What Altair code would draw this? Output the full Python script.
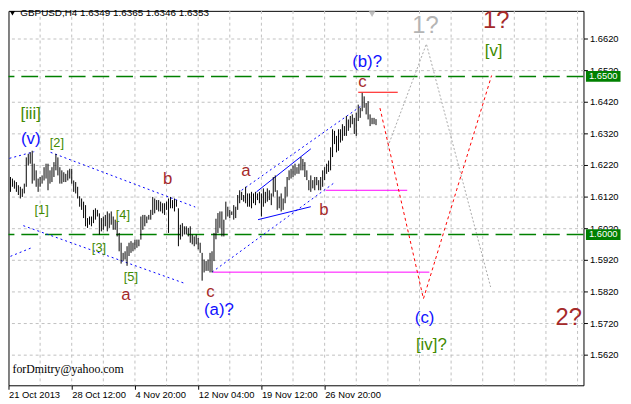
import altair as alt
import pandas as pd

# ---- OHLC bars (H4): highs and lows ----
highs = [1.6182, 1.6177, 1.6171, 1.6166, 1.6156, 1.6151, 1.6145, 1.6161, 1.6244, 1.6255,
         1.6260, 1.6265, 1.6224, 1.6203, 1.6177, 1.6182, 1.6187, 1.6213, 1.6224, 1.6224,
         1.6203, 1.6213, 1.6229, 1.6255, 1.6244, 1.6213, 1.6203, 1.6197, 1.6192, 1.6203,
         1.6208, 1.6208, 1.6171, 1.6166, 1.6151, 1.6121, 1.6114, 1.6104, 1.6093, 1.6052,
         1.6057, 1.6057, 1.6078, 1.6083, 1.6078, 1.6067, 1.6052, 1.6057, 1.6062, 1.6073,
         1.6067, 1.6073, 1.6057, 1.6047, 1.6041, 1.6005, 1.5974, 1.5942, 1.5947, 1.5963,
         1.5974, 1.5979, 1.5974, 1.5984, 1.5984, 1.5984, 1.6057, 1.6062, 1.6062, 1.6057,
         1.6062, 1.6078, 1.6119, 1.6114, 1.6109, 1.6109, 1.6104, 1.6099, 1.6099, 1.6104,
         1.6114, 1.6119, 1.6109, 1.6114, 1.6109, 1.6083, 1.6031, 1.6036, 1.6026, 1.6026,
         1.6021, 1.6026, 1.6000, 1.5994, 1.6000, 1.5989, 1.5974, 1.5942, 1.5921, 1.5916,
         1.5921, 1.5942, 1.5947, 1.6005, 1.6050, 1.6068, 1.6073, 1.6073, 1.6047, 1.6104,
         1.6088, 1.6078, 1.6073, 1.6093, 1.6088, 1.6125, 1.6140, 1.6135, 1.6125, 1.6151,
         1.6130, 1.6130, 1.6135, 1.6130, 1.6135, 1.6130, 1.6135, 1.6130, 1.6146, 1.6135,
         1.6146, 1.6140, 1.6130, 1.6182, 1.6187, 1.6140, 1.6120, 1.6130, 1.6114, 1.6151,
         1.6182, 1.6203, 1.6208, 1.6218, 1.6224, 1.6213, 1.6224, 1.6245, 1.6239, 1.6229,
         1.6203, 1.6172, 1.6187, 1.6172, 1.6182, 1.6182, 1.6172, 1.6182, 1.6203, 1.6213,
         1.6224, 1.6234, 1.6276, 1.6333, 1.6328, 1.6312, 1.6333, 1.6333, 1.6349, 1.6343,
         1.6375, 1.6364, 1.6375, 1.6380, 1.6369, 1.6385, 1.6411, 1.6401, 1.6448, 1.6437,
         1.6416, 1.6422, 1.6380, 1.6369, 1.6369, 1.6365]
lows = [1.6135, 1.6151, 1.6145, 1.6135, 1.6125, 1.6114, 1.6119, 1.6130, 1.6151, 1.6218,
        1.6224, 1.6161, 1.6171, 1.6151, 1.6135, 1.6151, 1.6161, 1.6171, 1.6177, 1.6140,
        1.6161, 1.6166, 1.6182, 1.6203, 1.6187, 1.6161, 1.6161, 1.6166, 1.6166, 1.6171,
        1.6177, 1.6161, 1.6135, 1.6130, 1.6114, 1.6088, 1.6078, 1.6052, 1.6026, 1.6021,
        1.6031, 1.6026, 1.6036, 1.6047, 1.6057, 1.6000, 1.6010, 1.6015, 1.6026, 1.6010,
        1.6021, 1.6031, 1.6015, 1.6015, 1.5994, 1.5947, 1.5908, 1.5916, 1.5921, 1.5901,
        1.5932, 1.5942, 1.5947, 1.5953, 1.5958, 1.5963, 1.5984, 1.6015, 1.6026, 1.6036,
        1.6047, 1.6047, 1.6062, 1.6067, 1.6078, 1.6073, 1.6073, 1.6067, 1.6062, 1.6078,
        1.6005, 1.6083, 1.6083, 1.6073, 1.6088, 1.5963, 1.5984, 1.5994, 1.6000, 1.6000,
        1.5994, 1.5974, 1.5969, 1.5963, 1.5969, 1.5953, 1.5942, 1.5854, 1.5880, 1.5885,
        1.5885, 1.5880, 1.5880, 1.5916, 1.5985, 1.6005, 1.6021, 1.5994, 1.5994, 1.6047,
        1.6057, 1.6052, 1.6062, 1.6047, 1.6052, 1.6078, 1.6099, 1.6109, 1.6104, 1.6099,
        1.6088, 1.6088, 1.6083, 1.6099, 1.6093, 1.6109, 1.6099, 1.6057, 1.6088, 1.6099,
        1.6104, 1.6109, 1.6093, 1.6120, 1.6135, 1.6078, 1.6083, 1.6073, 1.6078, 1.6099,
        1.6120, 1.6172, 1.6177, 1.6182, 1.6187, 1.6192, 1.6192, 1.6203, 1.6203, 1.6182,
        1.6172, 1.6140, 1.6135, 1.6146, 1.6140, 1.6156, 1.6140, 1.6140, 1.6151, 1.6172,
        1.6192, 1.6198, 1.6203, 1.6245, 1.6286, 1.6260, 1.6265, 1.6291, 1.6297, 1.6312,
        1.6312, 1.6328, 1.6338, 1.6349, 1.6318, 1.6312, 1.6359, 1.6369, 1.6390, 1.6401,
        1.6380, 1.6364, 1.6343, 1.6349, 1.6349, 1.6346]
bar_index = list(range(1, len(highs) + 1))

# ---- axes ----
x_tick_values = [0, 32, 64, 96, 128, 160]
x_tick_labels = ["21 Oct 2013", "28 Oct 12:00", "4 Nov 20:00",
                 "12 Nov 04:00", "19 Nov 12:00", "26 Nov 20:00"]
v_grid = [16, 32, 48, 64, 80, 96, 112, 128, 144, 160, 176, 192, 208, 224, 240, 256, 272, 288]
y_tick_values = [1.5620, 1.5720, 1.5820, 1.5920, 1.6020, 1.6120,
                 1.6220, 1.6320, 1.6420, 1.6520, 1.6620]
X_DOMAIN = [0, 291]
Y_DOMAIN = [1.552312, 1.670750]

# ---- horizontal levels (green dashed) and their price boxes ----
levels = [1.6500, 1.6000]
level_labels = ["1.6500", "1.6000"]

# ---- drawn objects ----
blue_dotted_seg = {"i": [0.5, 21.3, 7.5, 1.0, 118.0, 103.0],
                   "p": [1.6241, 1.6260, 1.6028, 1.5931, 1.6140, 1.5881],
                   "i2": [13.0, 94.5, 88.5, 12.0, 179.0, 164.5],
                   "p2": [1.6262, 1.6087, 1.5847, 1.5959, 1.6409, 1.6162]}
blue_solid_seg = {"i": [125.5, 126.3], "p": [1.6135, 1.6047],
                  "i2": [153.0, 153.0], "p2": [1.6271, 1.6088]}
magenta_seg = {"i": [103.5, 160.5], "p": [1.5881, 1.6140],
               "i2": [213.0, 201.8], "p2": [1.5881, 1.6140]}
red_seg = {"i": [177.0], "p": [1.6450], "i2": [197.0], "p2": [1.6450]}
red_path_i = [188.0, 210.0, 244.5]
red_path_p = [1.6400, 1.5797, 1.6503]
grey_path_i = [192.0, 211.5, 244.0]
grey_path_p = [1.6278, 1.6603, 1.5834]

# ---- wave labels ----
ann_text = ["[iii]", "(v)", "[2]", "[1]", "[4]", "[3]", "[5]", "a", "b", "c", "(a)?",
            "a", "b", "(b)?", "c", "1?", "1?", "[v]", "(c)", "[iv]?", "2?"]
ann_i = [11.25, 11.25, 24.5, 16.75, 57.9, 45.8, 61.9, 59.4, 80.5, 102.2, 106.5,
         120.1, 159.6, 181.5, 179.1, 211.0, 246.8, 245.5, 210.6, 214.0, 283.5]
ann_p = [1.6380, 1.6302, 1.6289, 1.6076, 1.6062, 1.5958, 1.5864, 1.5807, 1.6177, 1.5818, 1.5760,
         1.6201, 1.6078, 1.6547, 1.6481, 1.6659, 1.6675, 1.6581, 1.5736, 1.5649, 1.5737]
GREEN_T = "#3f8a00"
BLUE_T = "#1010ff"
BROWN_T = "#a52a2a"
GREY_T = "#b4b4b4"
ann_color = [GREEN_T, BLUE_T, GREEN_T, GREEN_T, GREEN_T, GREEN_T, GREEN_T, BROWN_T, BROWN_T, BROWN_T, BLUE_T,
             BROWN_T, BROWN_T, BLUE_T, BROWN_T, GREY_T, BROWN_T, GREEN_T, BLUE_T, GREEN_T, BROWN_T]
ann_size = [17, 17, 13, 13, 13, 13, 13, 17, 17, 17, 17,
            17, 17, 17, 17, 24, 24, 17, 17, 17, 24]

title_text = "GBPUSD,H4  1.6349 1.6365 1.6346 1.6353"
email_text = "forDmitry@yahoo.com"

FONT = "Liberation Sans"

XS = alt.Scale(domain=X_DOMAIN, nice=False, zero=False)
YS = alt.Scale(domain=Y_DOMAIN, nice=False, zero=False)
label_arr = "[" + ",".join("'%s'" % s for s in x_tick_labels) + "]"
x_axis = alt.Axis(values=x_tick_values, labelExpr=label_arr + "[round(datum.value/32)]",
                  grid=False, domain=False, ticks=True, tickSize=4, tickColor="black",
                  labelAlign="left", labelBaseline="top", labelFont=FONT, labelFontSize=9.5,
                  labelColor="black", labelPadding=0, labelFlush=False, labelOverlap=False,
                  title=None, zindex=0)
y_axis = alt.Axis(orient="right", values=y_tick_values, format=".4f", grid=True,
                  gridDash=[3, 3], gridColor="#c0c0c0", gridOpacity=1, domain=False,
                  ticks=True, tickSize=4, tickColor="black", labelFont=FONT, labelFontSize=9.5,
                  labelColor="black", labelPadding=2, labelOverlap=False, title=None, zindex=0)


def X(f):
    return alt.X(f"{f}:Q", scale=XS, axis=x_axis)


def Y(f):
    return alt.Y(f"{f}:Q", scale=YS, axis=y_axis)


vgrid = alt.Chart(pd.DataFrame({"g": v_grid})).mark_rule(
    color="#c0c0c0", strokeDash=[3, 3], strokeWidth=1).encode(x=X("g"))

levels_layer = alt.Chart(pd.DataFrame({"lv": levels})).mark_rule(
    color="#008000", strokeDash=[17, 7], strokeWidth=1.5).encode(y=Y("lv"))


def seg_layer(d, **mk):
    return alt.Chart(pd.DataFrame(d)).mark_rule(**mk).encode(
        x=X("i"), y=Y("p"), x2="i2:Q", y2="p2:Q")


blue_dot = seg_layer(blue_dotted_seg, color="#0000ff", strokeDash=[2, 3], strokeWidth=1)
blue_sol = seg_layer(blue_solid_seg, color="#0000ff", strokeWidth=1)
mag = seg_layer(magenta_seg, color="#ff00ff", strokeWidth=1)
red = seg_layer(red_seg, color="#ff0000", strokeWidth=1)

red_path = alt.Chart(pd.DataFrame({"i": red_path_i, "p": red_path_p, "o": [0, 1, 2]})).mark_line(
    color="#ff0000", strokeDash=[3, 3], strokeWidth=1).encode(x=X("i"), y=Y("p"), order="o:Q")
grey_path = alt.Chart(pd.DataFrame({"i": grey_path_i, "p": grey_path_p, "o": [0, 1, 2]})).mark_line(
    color="#a8a8a8", strokeDash=[2, 2], strokeWidth=1).encode(x=X("i"), y=Y("p"), order="o:Q")

bars = alt.Chart(pd.DataFrame({"i": bar_index, "lo": lows, "hi": highs})).mark_rule(
    color="black", strokeWidth=1).encode(x=X("i"), y=Y("lo"), y2="hi:Q")

ann = alt.Chart(pd.DataFrame({"t": ann_text, "i": ann_i, "p": ann_p,
                              "c": ann_color, "s": ann_size})).mark_text(
    font=FONT, align="center", baseline="middle").encode(
    x=X("i"), y=Y("p"), text="t:N",
    color=alt.Color("c:N", scale=None), size=alt.Size("s:Q", scale=None))

title_layer = alt.Chart(pd.DataFrame({"t": [title_text], "i": [6.0], "p": [1.6700]})).mark_text(
    font=FONT, fontSize=10, align="left", baseline="middle", color="black").encode(
    x=X("i"), y=Y("p"), text="t:N")
title_tri = alt.Chart(pd.DataFrame({"i": [2.0], "p": [1.6700]})).mark_point(
    shape="triangle-down", filled=True, color="black", size=28, opacity=1).encode(x=X("i"), y=Y("p"))
shift_tri = alt.Chart(pd.DataFrame({"i": [184.0], "p": [1.6697]})).mark_point(
    shape="triangle-down", filled=True, color="#c0c0c0", size=45, opacity=1).encode(x=X("i"), y=Y("p"))

email = alt.Chart(pd.DataFrame({"t": [email_text], "i": [2.0], "p": [1.5573]})).mark_text(
    font="Liberation Serif", fontSize=12, align="left", baseline="middle", color="black").encode(
    x=X("i"), y=Y("p"), text="t:N")

box_df = pd.DataFrame({"i": [292.25] * 2, "i2": [309.75] * 2,
                       "lo": [v - 0.0017 for v in levels], "hi": [v + 0.0017 for v in levels],
                       "mid": levels, "t": level_labels, "ic": [301.0] * 2})
boxes = alt.Chart(box_df).mark_rect(color="#008000").encode(
    x=X("i"), x2="i2:Q", y=Y("lo"), y2="hi:Q")
box_text = alt.Chart(box_df).mark_text(
    font=FONT, fontSize=9.5, color="white", align="center", baseline="middle").encode(
    x=X("ic"), y=Y("mid"), text="t:N")

chart = alt.layer(
    vgrid, levels_layer, blue_dot, blue_sol, mag, red, grey_path, red_path, bars,
    ann, title_layer, title_tri, shift_tri, email, boxes, box_text
).properties(
    width=582, height=379,
    padding={"left": 0.5, "top": 0.5, "right": 40, "bottom": 13},
    autosize=alt.AutoSizeParams(type="none"),
    background="white",
).configure_view(stroke="black", strokeWidth=1)

chart.save("out.html", embed_options={"renderer": "svg", "actions": False})
